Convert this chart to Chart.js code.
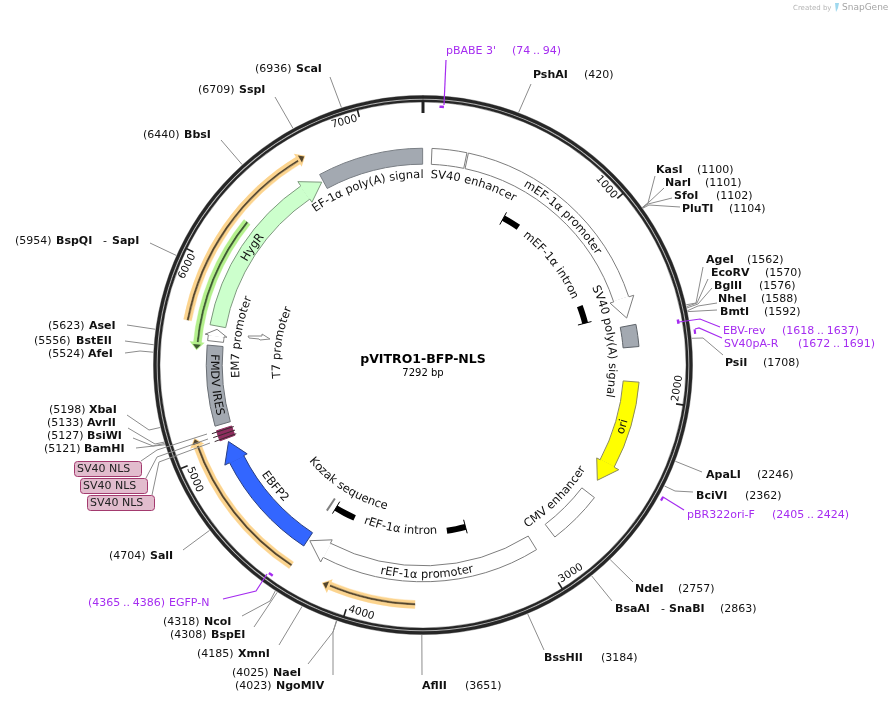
<!DOCTYPE html>
<html><head><meta charset="utf-8">
<style>html,body{margin:0;padding:0;background:#fff}canvas{display:block}</style>
<script src="https://cdn.jsdelivr.net/npm/chart.js@4"></script>
</head><body><canvas id="c" width="891" height="703"></canvas>
<script>
// ---------- DATA ----------
const plasmidName = "pVITRO1-BFP-NLS";
const plasmidLength = 7292;
const tickValues = [1000,2000,3000,4000,5000,6000,7000];
const tickLabels = ["1000","2000","3000","4000","5000","6000","7000"];

const featureNames  = ["SV40 enhancer","mEF-1α promoter","SV40 poly(A) signal","ori","CMV enhancer","rEF-1α promoter","EBFP2","SV40 NLS","SV40 NLS","SV40 NLS","FMDV IRES","EM7 promoter","HygR","EF-1α poly(A) signal"];
const featureStarts = [48,245,1604,1915,2587,3006,4322,5054,5073,5092,5137,5600,5686,6715];
const featureEnds   = [237,1560,1724,2501,2887,4310,5034,5073,5092,5111,5576,5668,6705,7290];
const featureDirs   = [0,1,0,1,0,1,1,0,0,0,0,1,1,0];

const orangeStarts = [3685,4321,5688];
const orangeEnds   = [4151,5110,6697];
const greenStarts  = [5545];
const greenEnds    = [6261];

const intronNames  = ["mEF-1α intron","rEF-1α intron"];
const intronBarStarts = [581,1406,3348,4134];
const intronBarEnds   = [703,1530,3480,4281];

const siteNames = ["PshAI","KasI","NarI","SfoI","PluTI","AgeI","EcoRV","BglII","NheI","BmtI","PsiI","ApaLI","BciVI","NdeI","BsaAI - SnaBI","BssHII","AflII","NgoMIV","NaeI","XmnI","BspEI","NcoI","SalI","BamHI","BsiWI","AvrII","XbaI","AfeI","BstEII","AseI","BspQI - SapI","BbsI","SspI","ScaI"];
const sitePositions = [420,1100,1101,1102,1104,1562,1570,1576,1588,1592,1708,2246,2362,2757,2863,3184,3651,4023,4025,4185,4308,4318,4704,5121,5127,5133,5198,5524,5556,5623,5954,6440,6709,6936];

const primerNames  = ["pBABE 3'","EBV-rev","SV40pA-R","pBR322ori-F","EGFP-N"];
const primerStarts = [74,1618,1672,2405,4365];
const primerEnds   = [94,1637,1691,2424,4386];

const nlsBoxes = ["SV40 NLS","SV40 NLS","SV40 NLS"];

// ---------- LAYOUT / STYLE ----------
const cx=423, cy=365, R=276, HOLE=160;
const featureFill = ["#ffffff","#ffffff","#a3a9b1","#ffff00","#ffffff","#ffffff","#3366ff","#8e2c5e","#8e2c5e","#8e2c5e","#a3a9b1","#ffffff","#ccffcc","#a3a9b1"];
const featureEdge = ["#7d7d7d","#7d7d7d","#5f646a","#8a8a60","#7d7d7d","#7d7d7d","#2a3f80","#8e2c5e","#8e2c5e","#8e2c5e","#6a6f75","#7d7d7d","#7d9a7d","#7a7f85"];
const GRAY="#8c8c8c", PURPLE="#a52cf0", INK="#111";
// [nameX, posX, y, endX, endY, elbowX, elbowY, dashX, secondX]
const siteLayout = [
[533,584,75,531,84],[656,697,170,655,176,648,203],[665,705,183,664,188,648,203],[674,716,196,672,198,648,204],[682,729,209,680,207,649,205],
[706,747,260,703,267,696,303],[711,765,273,708,279,697,303],[714,759,286,712,288,698,304],[718,761,299,717,303,698,306],[720,764,312,717,310],
[725,763,363,723,355,703,338],[706,757,475,702,472],[696,745,496,693,492,675,491],[635,678,589,633,582],[615,720,609,612,601,,,661,669],
[544,601,658,544,650],[422,465,686,422,675],[276,235,686,333,675,333,632],[273,232,673,308,664,333,632],[238,197,654,279,645],[211,170,635,254,627],[204,163,622,242,616,270,601],[150,109,556,183,550],
[84,44,449,136,448],[87,47,436,133,438,153,446],[87,47,423,128,428,155,444],[89,49,410,127,415,149,430],[88,48,354,125,353,140,351],[76,34,341,125,341],[89,48,326,127,325],[56,15,241,150,243,,,103,112],[184,143,135,221,140],[239,198,90,275,97],[296,255,69,330,77]];
const primerLayout = [
 {x:446,px:512,y:51,pts:[[444,105],[446,60]]},
 {x:723,px:782,y:331,pts:[[679,322],[700,319],[720,327]]},
 {x:724,px:798,y:344,pts:[[695,329],[699,328],[722,338]]},
 {x:687,px:772,y:515,pts:[[663,497],[684,510]]},
 {x:169,px:88,y:603,pts:[[267,574],[256,591],[223,599]]}];
const boxLayout=[[74,461,67,15,[[207,434],[157,450],[141,461]]],[80,478,67,15,[[208,439],[157,457],[146,478]]],[87,495,67,15,[[210,443],[159,462],[152,495]]]];

const rad = bp => (bp/plasmidLength)*2*Math.PI - Math.PI/2;
const P = (bp,r) => [cx+Math.cos(rad(bp))*r, cy+Math.sin(rad(bp))*r];
const PA = (deg,r) => { const a=(deg-90)*Math.PI/180; return [cx+Math.cos(a)*r, cy+Math.sin(a)*r]; };

function ring(starts, ends, fills, edges, bw){
  const idx = starts.map((_,i)=>i).sort((a,b)=>starts[a]-starts[b]);
  const data=[], bg=[], bc=[]; let pos=0;
  idx.forEach(i=>{
    if(starts[i]>pos){data.push(starts[i]-pos);bg.push("rgba(0,0,0,0)");bc.push("rgba(0,0,0,0)");}
    data.push(ends[i]-starts[i]);bg.push(fills[i]);bc.push(edges[i]);pos=ends[i];
  });
  if(pos<plasmidLength){data.push(plasmidLength-pos);bg.push("rgba(0,0,0,0)");bc.push("rgba(0,0,0,0)");}
  return {data,backgroundColor:bg,borderColor:bc,borderWidth:bw};
}
const rep=(a,v)=>a.map(()=>v);
function spacer(w){return {data:[plasmidLength],backgroundColor:"rgba(0,0,0,0)",borderColor:"rgba(0,0,0,0)",borderWidth:0,weight:w};}
function band(w,o){o.weight=w;return o;}
function solid(w,c){return {data:[plasmidLength],backgroundColor:c,borderColor:c,borderWidth:0.4,weight:w};}
const headBp=108;
const bodyEnds=featureEnds.map((e,i)=>featureDirs[i]?e-headBp:e);
const emIdx=featureNames.indexOf("EM7 promoter");
bodyEnds[emIdx]=featureEnds[emIdx]-36;
const OR="#fcd48e", ORD="#54452c", GR="#b4f08c", GRD="#3d5a30";
const oS=orangeStarts, oE=orangeEnds.map(e=>e-30), gS=greenStarts.map(s=>s+30), gE=greenEnds;
const primIn=[0,1,4], primOut=[2,3];
const datasets=[
 spacer(1),
 band(2.2,ring(primOut.map(i=>primerStarts[i]),primOut.map(i=>primerEnds[i]),rep(primOut,PURPLE),rep(primOut,PURPLE),0)),
 spacer(3.3),
 solid(3.2,"#262626"), spacer(1), solid(2.3,"#262626"),
 spacer(3),
 band(2.5,ring(primIn.map(i=>primerStarts[i]),primIn.map(i=>primerEnds[i]),rep(primIn,PURPLE),rep(primIn,PURPLE),0)),
 spacer(14),
 band(3,ring(oS,oE,rep(oS,OR),rep(oS,OR),0.4)),
 band(2,ring(oS,oE,rep(oS,ORD),rep(oS,ORD),0.4)),
 band(3,ring(oS,oE,rep(oS,OR),rep(oS,OR),0.4)),
 spacer(5),
 band(3,ring(gS,gE,rep(gS,GR),rep(gS,GR),0.4)),
 band(2,ring(gS,gE,rep(gS,GRD),rep(gS,GRD),0.4)),
 band(3,ring(gS,gE,rep(gS,GR),rep(gS,GR),0.4)),
 spacer(6),
 band(16,ring(featureStarts,bodyEnds,featureFill,featureEdge,1)),
 spacer(30.5),
 band(6,ring(intronBarStarts,intronBarEnds,rep(intronBarStarts,"#000"),rep(intronBarStarts,"#000"),0)),
 spacer(4.5)
];

const FONT='"DejaVu Sans"';
function curved(ctx,str,deg,r,flip,size,color){
  ctx.save();ctx.font=size+'px '+FONT;ctx.fillStyle=color||INK;ctx.textAlign='center';ctx.textBaseline='alphabetic';
  const tot=ctx.measureText(str).width;
  for(let i=0;i<str.length;i++){
    const before=ctx.measureText(str.slice(0,i)).width, w=ctx.measureText(str[i]).width;
    const s=before+w/2-tot/2, d=s/r*180/Math.PI;
    const th=flip?deg-d:deg+d;
    const p=PA(th,r);
    ctx.save();ctx.translate(p[0],p[1]);ctx.rotate((flip?th-180:th)*Math.PI/180);ctx.fillText(str[i],0,0);ctx.restore();
  }
  ctx.restore();
}
function poly(ctx,pts,color,w){ctx.beginPath();pts.forEach((p,i)=>i?ctx.lineTo(p[0],p[1]):ctx.moveTo(p[0],p[1]));ctx.strokeStyle=color;ctx.lineWidth=w||1;ctx.stroke();}
function fillPoly(ctx,pts,color){ctx.beginPath();pts.forEach((p,i)=>i?ctx.lineTo(p[0],p[1]):ctx.moveTo(p[0],p[1]));ctx.closePath();ctx.fillStyle=color;ctx.fill();}
function label(ctx,t,x,y,bold,color,size){ctx.font=(bold?'bold ':'')+(size||11)+'px '+FONT;ctx.fillStyle=color||INK;ctx.textAlign='left';ctx.textBaseline='middle';ctx.fillText(t,x,y+0.5);}

const curvedLabels=[
 ["EF-1α poly(A) signal",-17.5,187,false],["SV40 enhancer",15.7,187,false],["mEF-1α promoter",43.4,205,false],
 ["SV40 poly(A) signal",82.6,186,false],["CMV enhancer",135,193,true],["rEF-1α promoter",178.9,213,true],
 ["rEF-1α intron",187.9,169,true],["Kozak sequence",212,149,true],["EBFP2",230.6,195,true],["ori",107.2,212,true],
 ["FMDV IRES",264.5,212,true],["HygR",304.6,204,false],["EM7 promoter",278.7,184,false],["T7 promoter",279,143,false],["mEF-1α intron",52,163,false]];

const mapPlugin={id:'map',afterDatasetsDraw(chart){
  const ctx=chart.ctx;ctx.save();
  poly(ctx,[P(0,264),P(0,252)],"#222",3);
  tickValues.forEach((t,i)=>{
    poly(ctx,[P(t,264),P(t,256)],"#222",1.6);
    const d=t/plasmidLength*360, p=PA(d-3.5,255.5);
    ctx.save();ctx.translate(p[0],p[1]);ctx.rotate((d>90&&d<270?d-180:d)*Math.PI/180);
    ctx.font='10.5px '+FONT;ctx.fillStyle=INK;ctx.textAlign='center';ctx.textBaseline='middle';ctx.fillText(tickLabels[i],0,0);ctx.restore();
  });
  featureDirs.forEach((dir,i)=>{ if(!dir)return;
    const b=bodyEnds[i], e=featureEnds[i], small=i===emIdx, ho=small?220:222, hi=small?198:197;
    const pts=[P(b,217),P(b,ho),P(e,209),P(b,hi),P(b,201)];
    fillPoly(ctx,[P(b-4,202),P(b-4,216),...pts],featureFill[i]);
    poly(ctx,pts,featureEdge[i],1);
  });
  [[orangeEnds,OR,ORD,240,1],[greenStarts,GR,GRD,227,-1]].forEach(([arr,hc,lc,r,dir])=>arr.forEach(bp=>{
    const b=bp-dir*42;
    fillPoly(ctx,[P(b,r+7.5),P(bp,r),P(b,r-7.5)],hc);
    const c=bp-dir*30;
    fillPoly(ctx,[P(c,r+4),P(bp-dir*6,r),P(c,r-4)],lc);
  }));
  [5060,5082,5104].forEach(bp=>poly(ctx,[P(bp,199),P(bp,222)],"#3a2a30",1));
  [[581,"#000"],[1530,"#000"],[3348,"#000"],[4281,"#000"]].forEach(c=>poly(ctx,[P(c[0],160),P(c[0],174)],c[1],1));
  poly(ctx,[P(4323,160),P(4323,174.5)],"#808080",2);
  poly(ctx,[[248,336],[262,336],[262,334],[270,339],[260,340],[259,339],[249,338],[248,336]],"#888",1);
  siteNames.forEach((n,i)=>{
    const L=siteLayout[i], pts=[P(sitePositions[i],270)];
    if(L[5]!==undefined)pts.push([L[5],L[6]]);
    pts.push([L[3],L[4]]);
    poly(ctx,pts,GRAY,1);
    const parts=n.split(" - ");
    label(ctx,parts[0],L[0],L[2],true);
    if(parts[1]){label(ctx,"-",L[7],L[2],false);label(ctx,parts[1],L[8],L[2],true);}
    label(ctx,"("+sitePositions[i]+")",L[1],L[2],false);
  });
  primerNames.forEach((n,i)=>{const L=primerLayout[i];
    poly(ctx,L.pts,PURPLE,1.2);
    label(ctx,n,L.x,L.y,false,PURPLE);
    ctx.save();ctx.wordSpacing='-0.8px';
    label(ctx,"("+primerStarts[i]+" .. "+primerEnds[i]+")",L.px,L.y,false,PURPLE);
    ctx.restore();
  });
  nlsBoxes.forEach((n,i)=>{const [x,y,w,h,pts]=boxLayout[i];
    poly(ctx,pts,GRAY,1);
    ctx.beginPath();ctx.roundRect(x+.5,y+.5,w,h,3);ctx.fillStyle="#e2bccd";ctx.fill();ctx.strokeStyle="#a33a6e";ctx.lineWidth=1;ctx.stroke();
    label(ctx,n,x+3,y+8,false,"#222");
  });
  curvedLabels.forEach(l=>curved(ctx,l[0],l[1],l[2],l[3],11.5));
  ctx.textAlign='center';ctx.textBaseline='middle';ctx.fillStyle="#000";
  ctx.font='bold 12.5px '+FONT;ctx.fillText(plasmidName,423,360);
  ctx.font='10px '+FONT;ctx.fillText(plasmidLength+" bp",423,373);
  ctx.textAlign='left';ctx.fillStyle="#b5b5b5";ctx.font='7px '+FONT;ctx.fillText("Created by",793,8);
  fillPoly(ctx,[[835,3],[839,3],[838,8],[836,12]],"#9fd8ee");
  ctx.fillStyle="#a5a5a5";ctx.font='9px '+FONT;ctx.fillText("SnapGene",842,8);
  ctx.restore();
}};

new Chart(document.getElementById('c'),{
  type:'doughnut',
  data:{labels:[],datasets},
  options:{responsive:false,animation:false,devicePixelRatio:1,cutout:HOLE,rotation:0,circumference:360,
    layout:{padding:{left:cx-R,right:891-cx-R,top:cy-R,bottom:703-cy-R}},
    elements:{arc:{borderAlign:'center',borderJoinStyle:'miter'}},
    events:[],
    plugins:{legend:{display:false},tooltip:{enabled:false}}},
  plugins:[mapPlugin]
});
</script></body></html>
